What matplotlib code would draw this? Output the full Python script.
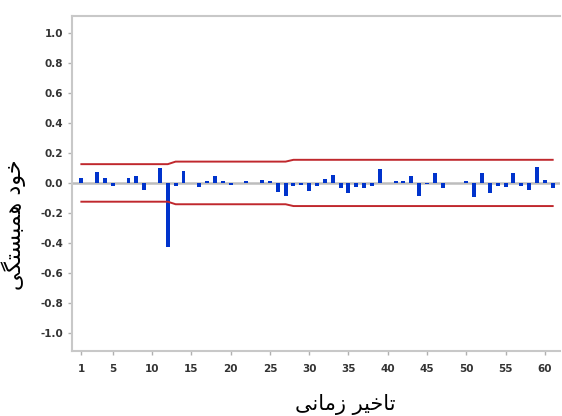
import matplotlib
matplotlib.use("Agg")
import matplotlib.pyplot as plt
import numpy as np

# lags and autocorrelation values
lags = list(range(1, 62))
acf = [0.035, 0.0, 0.07, 0.03, -0.02, 0.0, 0.035, 0.045, -0.05, 0.0,
       0.10, -0.43, -0.02, 0.08, 0.0, -0.025, 0.015, 0.045, 0.015, -0.013,
       0.0, 0.012, 0.0, 0.02, 0.013, -0.06, -0.09, -0.022, -0.013, -0.052,
       -0.018, 0.027, 0.055, -0.033, -0.068, -0.025, -0.032, -0.018, 0.095, 0.0,
       0.015, 0.012, 0.045, -0.085, -0.01, 0.063, -0.035, 0.0, 0.0, 0.01,
       -0.095, 0.065, -0.07, -0.02, -0.025, 0.065, -0.02, -0.045, 0.105, 0.02,
       -0.035]
conf = [0.125] * 12 + [0.142] * 15 + [0.154] * 34

xticks = [1, 5, 10, 15, 20, 25, 30, 35, 40, 45, 50, 55, 60]
yticks = [-1.0, -0.8, -0.6, -0.4, -0.2, 0.0, 0.2, 0.4, 0.6, 0.8, 1.0]

# Persian labels, pre-shaped (presentation forms, visual order)
ylabel = "\ufbfd\ufb95\ufe98\ufeb4\ufe92\ufee4\ufeeb \ufea9\ufeee\ufea7"   # خود همبستگی
xlabel = "\ufbfd\ufee7\ufe8e\ufee3\ufeaf \ufeae\ufbff\ufea7\ufe8e\ufe97"   # تاخیر زمانی

fig = plt.figure(figsize=(5.62, 4.16), dpi=100)
ax = fig.add_axes([0.128, 0.156, 0.868, 0.806])

ax.axhline(0, color="#bdbdbd", lw=1.8, zorder=1)
ax.bar(lags, acf, width=0.5, color="#0033cc", zorder=2)
ax.plot(lags, conf, color="#c0282d", lw=1.4, zorder=3)
ax.plot(lags, [-c for c in conf], color="#c0282d", lw=1.4, zorder=3)

ax.set_xlim(-0.2, 61.9)
ax.set_ylim(-1.12, 1.113)
ax.set_xticks(xticks)
ax.set_yticks(yticks)
ax.set_yticklabels(["%.1f" % v for v in yticks])

for s in ["left", "top", "bottom"]:
    ax.spines[s].set_color("#c8c8c8")
    ax.spines[s].set_linewidth(1.5)
ax.spines["right"].set_visible(False)

ax.tick_params(axis="both", colors="#b0b0b0", labelcolor="#333333", width=1,
               length=3, labelsize=7.5)
ax.tick_params(axis="x", pad=6)
for lab in ax.get_xticklabels() + ax.get_yticklabels():
    lab.set_family(["Liberation Sans Narrow", "DejaVu Sans"])
    lab.set_fontweight("bold")

fig.text(0.614, 0.002, xlabel, ha="center", va="bottom", fontsize=15,
         family="DejaVu Sans")
fig.text(0.024, 0.46, ylabel, ha="center", va="center", rotation=90,
         fontsize=16, family="DejaVu Sans")

fig.savefig("out.png", dpi=100)
